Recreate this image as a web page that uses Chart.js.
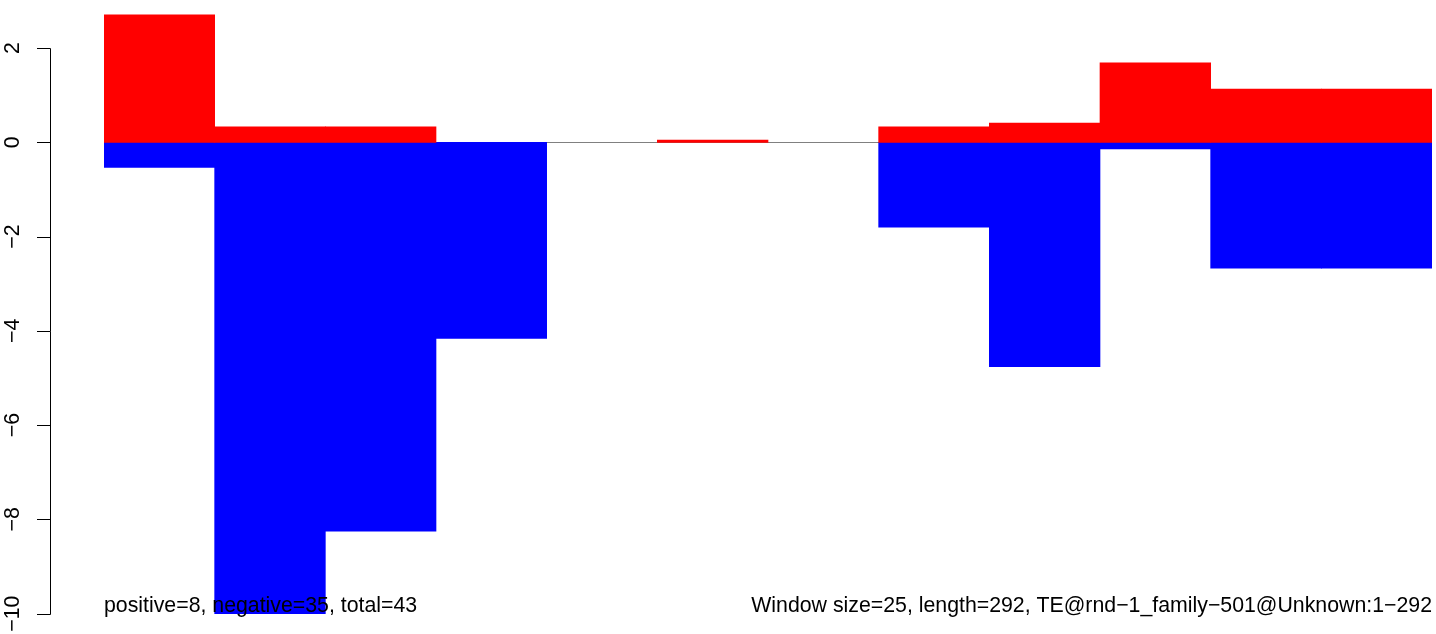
<!DOCTYPE html>
<html>
<head>
<meta charset="utf-8">
<script src="https://cdn.jsdelivr.net/npm/chart.js@4"></script>
<style>
  body { margin: 0; background: #fff; }
  #wrap { width: 1436px; height: 634px; }
</style>
</head>
<body>
<div id="wrap"><canvas id="graficoJanelas" width="1436" height="634"></canvas></div>
<script>
const GRAF_JANELAS = document.getElementById("graficoJanelas");

// windows of 25 along the 292 bp element
const janelas = ['1-25','26-50','51-75','76-100','101-125','126-150','151-175','176-200','201-225','226-250','251-275','276-292'];
const positivos = [2.71, 0.33, 0.33, 0, 0, 0.05, 0, 0.33, 0.41, 1.69, 1.13, 1.13];
const negativos = [-0.53, -10.0, -8.25, -4.16, 0, 0, 0, -1.80, -4.76, -0.14, -2.67, -2.67];
const ticksY = [-10, -8, -6, -4, -2, 0, 2];
const textoEsq = 'positive=8, negative=35, total=43';
const textoDir = 'Window size=25, length=292, TE@rnd\u22121_family\u2212501@Unknown:1\u2212292';

const FONTE = '21.3px "Liberation Sans", Arial, Helvetica, sans-serif';

const menos = (v) => String(v).replace('-', '\u2212');

// eixo no estilo R + linha do zero + textos de rodape
const desenhoExtra = {
    id: 'desenhoExtra',
    beforeDatasetsDraw(chart) {
        const { ctx, chartArea, scales } = chart;
        const y0 = Math.round(scales.y.getPixelForValue(0)) + 0.5;
        ctx.save();
        ctx.strokeStyle = '#808080';
        ctx.lineWidth = 1;
        ctx.beginPath();
        ctx.moveTo(chartArea.left, y0);
        ctx.lineTo(chartArea.right, y0);
        ctx.stroke();
        ctx.restore();
    },
    afterDraw(chart) {
        const { ctx, chartArea, scales } = chart;
        const eixoX = 50.5;
        ctx.save();
        ctx.strokeStyle = '#000';
        ctx.lineWidth = 1;
        ctx.beginPath();
        ctx.moveTo(eixoX, Math.round(scales.y.getPixelForValue(ticksY[ticksY.length - 1])) + 0.5);
        ctx.lineTo(eixoX, Math.round(scales.y.getPixelForValue(ticksY[0])) + 0.5);
        ticksY.forEach(v => {
            const py = Math.round(scales.y.getPixelForValue(v)) + 0.5;
            ctx.moveTo(37, py);
            ctx.lineTo(eixoX, py);
        });
        ctx.stroke();

        ctx.fillStyle = '#000';
        ctx.font = FONTE;
        ctx.textAlign = 'center';
        ctx.textBaseline = 'middle';
        ticksY.forEach(v => {
            const py = scales.y.getPixelForValue(v);
            ctx.save();
            ctx.translate(13, py);
            ctx.rotate(-Math.PI / 2);
            ctx.fillText(menos(v), 0, 0);
            ctx.restore();
        });

        ctx.textBaseline = 'alphabetic';
        ctx.textAlign = 'left';
        ctx.fillText(textoEsq, chartArea.left, 612);
        ctx.textAlign = 'right';
        ctx.fillText(textoDir, chartArea.right, 612);
        ctx.restore();
    }
};

const dadosJanelas = {
    labels: janelas,
    datasets: [
        { label: 'positive', data: positivos, backgroundColor: '#ff0000', borderWidth: 0 },
        { label: 'negative', data: negativos, backgroundColor: '#0000ff', borderWidth: 0 }
    ]
};

const configJanelas = {
    type: 'bar',
    data: dadosJanelas,
    options: {
        responsive: false,
        animation: false,
        layout: { padding: { left: 104, right: 4, top: 2, bottom: 2 } },
        datasets: { bar: {
            barPercentage: 1,
            categoryPercentage: 1,
            // sem "inflar" barras de altura zero, senão vira uma linha por cima do zero
            inflateAmount: (c) => (c.raw === 0 ? 0 : 'auto')
        } },
        plugins: {
            legend: { display: false },
            tooltip: { enabled: false }
        },
        scales: {
            x: { display: false, stacked: true },
            y: { display: false, stacked: true, min: -10.39, max: 2.98 }
        }
    },
    plugins: [desenhoExtra]
};

const GRAFICO_JANELAS = new Chart(GRAF_JANELAS, configJanelas);
</script>
</body>
</html>
